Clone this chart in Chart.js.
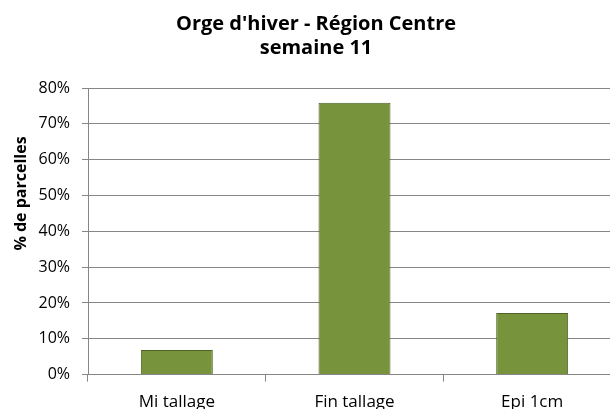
<!DOCTYPE html>
<html>
<head>
<meta charset="utf-8">
<script src="https://cdn.jsdelivr.net/npm/chart.js@4"></script>
<style>
  html, body { margin: 0; padding: 0; overflow: hidden; background: #fff; }
  #wrap { width: 632px; height: 422px; }
  canvas { display: block; }
</style>
</head>
<body>
<div id="wrap"><canvas id="c" width="632" height="422"></canvas></div>
<script>
const titleLines = ["Orge d'hiver - Région Centre", "semaine 11"];
const yAxisTitle = "% de parcelles";
const categories = ["Mi tallage", "Fin tallage", "Epi 1cm"];
const values = [6.9, 75.9, 17.2];
const yMin = 0;
const yMax = 80;
const yStep = 10;

const FONT = "'Open Sans', 'DejaVu Sans', sans-serif";
const GRID = '#868686';

const yTitlePlugin = {
  id: 'yTitlePlugin',
  afterDraw(chart) {
    const ctx = chart.ctx;
    ctx.save();
    ctx.translate(21, 193.5);
    ctx.rotate(-Math.PI / 2);
    ctx.font = "bold 16px " + FONT;
    ctx.fillStyle = '#000';
    ctx.textAlign = 'center';
    ctx.textBaseline = 'middle';
    ctx.fillText(yAxisTitle, 0, 0);
    ctx.restore();
  }
};

new Chart(document.getElementById('c'), {
  type: 'bar',
  data: {
    labels: categories,
    datasets: [{
      data: values,
      backgroundColor: '#77933C',
      borderColor: '#4F6228',
      borderWidth: 1,
      categoryPercentage: 1,
      barPercentage: 0.405
    }]
  },
  options: {
    responsive: false,
    animation: false,
    events: [],
    layout: { padding: { left: 11, right: 11, top: 0, bottom: 0 } },
    plugins: {
      legend: { display: false },
      tooltip: { enabled: false },
      title: {
        display: true,
        text: titleLines,
        color: '#000',
        font: { family: FONT, size: 20, weight: 'bold', lineHeight: 1.2 },
        padding: { top: 12, bottom: 28 }
      }
    },
    scales: {
      x: {
        offset: true,
        grid: {
          offset: true,
          drawOnChartArea: false,
          drawTicks: true,
          tickLength: 7,
          color: GRID
        },
        border: { display: true, color: GRID },
        ticks: {
          color: '#000',
          padding: 10,
          font: { family: FONT, size: 17 },
          maxRotation: 0
        }
      },
      y: {
        min: yMin,
        max: yMax,
        afterFit(scale) { scale.width = 77; },
        grid: {
          color: GRID,
          drawTicks: true,
          tickLength: 6
        },
        border: { display: true, color: GRID },
        ticks: {
          stepSize: yStep,
          color: '#000',
          padding: 12,
          font: { family: FONT, size: 16 },
          callback: v => v + '%'
        }
      }
    }
  },
  plugins: [yTitlePlugin]
});
</script>
</body>
</html>
